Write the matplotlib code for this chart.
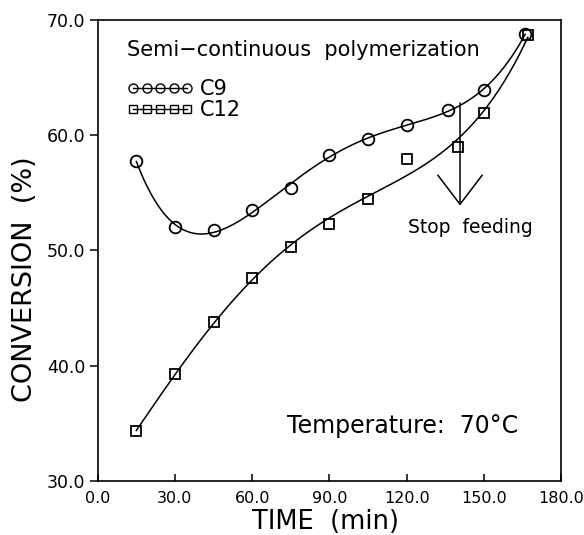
import numpy as np
import matplotlib.pyplot as plt
from matplotlib.lines import Line2D

# data
time_c9 = [15, 30, 45, 60, 75, 90, 105, 120, 136, 150, 166]
conv_c9 = [57.8, 52.0, 51.8, 53.5, 55.4, 58.3, 59.7, 60.9, 62.2, 63.9, 68.8]
time_c12 = [15, 30, 45, 60, 75, 90, 105, 120, 140, 150, 167]
conv_c12 = [34.3, 39.3, 43.8, 47.6, 50.3, 52.3, 54.5, 57.9, 59.0, 61.9, 68.7]

x_ticks = [0, 30, 60, 90, 120, 150, 180]
y_ticks = [30, 40, 50, 60, 70]

# stop feeding marker
stop_time = 140.7
arrow_top = 62.8
arrow_tip = 53.9


def smooth(t, c, deg):
    coef = np.polyfit(t, c, deg)
    tt = np.linspace(min(t), max(t), 300)
    return tt, np.polyval(coef, tt)


fig = plt.figure(figsize=(5.84, 5.35), dpi=100)
ax = fig.add_axes([0.1673, 0.101, 0.7937, 0.8616])

tt, cc = smooth(time_c9, conv_c9, 5)
ax.plot(tt, cc, color='black', lw=1.1)
tt, cc = smooth(time_c12, conv_c12, 4)
ax.plot(tt, cc, color='black', lw=1.1)

ax.plot(time_c9, conv_c9, 'o', ms=8.4, mfc='none', mec='black', mew=1.3)
ax.plot(time_c12, conv_c12, 's', ms=7.2, mfc='none', mec='black', mew=1.3)

# stop feeding arrow
ax.annotate('', xy=(stop_time, arrow_tip), xytext=(stop_time, arrow_top),
            arrowprops=dict(arrowstyle='->, head_length=2.1, head_width=1.6',
                            mutation_scale=10, lw=1.1, color='black',
                            shrinkA=0, shrinkB=0))
ax.text(120.5, 52.0, 'Stop  feeding', fontsize=13.5, ha='left', va='center')

ax.text(0.063, 0.935, 'Semi\u2212continuous  polymerization', transform=ax.transAxes,
        fontsize=15, ha='left', va='center')
ax.text(0.408, 0.119, 'Temperature:  70\u00b0C', transform=ax.transAxes,
        fontsize=17, ha='left', va='center')

handles = [
    Line2D([], [], color='black', lw=1, marker='o', ms=6.5, mfc='none', mec='black'),
    Line2D([], [], color='black', lw=1, marker='s', ms=6, mfc='none', mec='black'),
]
ax.legend(handles, ['C9', 'C12'], numpoints=5, frameon=False, loc='upper left',
          bbox_to_anchor=(0.045, 0.89), fontsize=15, handlelength=3.2,
          handletextpad=0.3, labelspacing=0.05, borderaxespad=0)

ax.set_xlim(0, 180)
ax.set_ylim(30, 70)
ax.set_xticks(x_ticks)
ax.set_xticklabels([f'{v:.1f}' for v in x_ticks])
ax.set_yticks(y_ticks)
ax.set_yticklabels([f'{v:.1f}' for v in y_ticks])
ax.tick_params(axis='x', direction='in', length=5, width=1.1, pad=7, labelsize=11.5)
ax.tick_params(axis='y', direction='out', length=6, width=1.1, pad=3, labelsize=12.5)
for s in ax.spines.values():
    s.set_linewidth(1.2)

ax.set_xlabel('TIME  (min)', fontsize=18.5)
ax.set_ylabel('CONVERSION  (%)', fontsize=19.5)
ax.xaxis.set_label_coords(0.492, -0.09)
ax.xaxis.label.set_va('center')
ax.yaxis.set_label_coords(-0.157, 0.438)
ax.yaxis.label.set_va('center')

fig.savefig('out.png', dpi=100)
